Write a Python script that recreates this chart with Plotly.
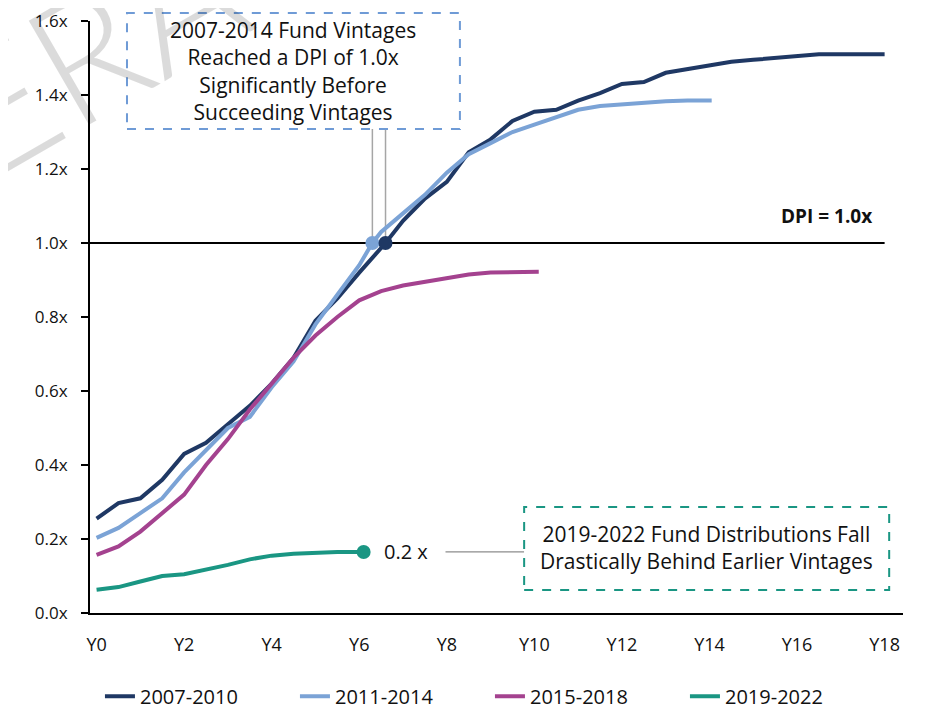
import plotly.graph_objects as go

# ---- data ----
t_a = [0, 0.5, 1, 1.5, 2, 2.5, 3, 3.5, 4, 4.5, 5, 5.5, 6, 6.6, 7, 7.5, 8, 8.5, 9, 9.5, 10, 10.5, 11, 11.5, 12, 12.5, 13, 13.5, 14, 14.5, 15, 16, 16.5, 17, 18]
v_a = [0.255, 0.297, 0.31, 0.36, 0.43, 0.46, 0.51, 0.56, 0.62, 0.69, 0.79, 0.85, 0.92, 1.0, 1.06, 1.12, 1.165, 1.245, 1.28, 1.33, 1.355, 1.36, 1.385, 1.405, 1.43, 1.435, 1.46, 1.47, 1.48, 1.49, 1.495, 1.505, 1.51, 1.51, 1.51]

t_b = [0, 0.5, 1, 1.5, 2, 2.5, 3, 3.5, 4, 4.5, 5, 5.5, 6, 6.3, 6.5, 7, 7.5, 8, 8.5, 9, 9.5, 10, 10.5, 11, 11.5, 12, 12.5, 13, 13.5, 14.05]
v_b = [0.203, 0.23, 0.27, 0.31, 0.38, 0.44, 0.50, 0.53, 0.61, 0.68, 0.78, 0.86, 0.94, 1.0, 1.03, 1.08, 1.13, 1.19, 1.24, 1.27, 1.30, 1.32, 1.34, 1.36, 1.37, 1.375, 1.38, 1.383, 1.385, 1.385]

t_c = [0, 0.5, 1, 1.5, 2, 2.5, 3, 3.5, 4, 4.5, 5, 5.5, 6, 6.5, 7, 7.5, 8, 8.5, 9, 9.5, 10.1]
v_c = [0.157, 0.18, 0.22, 0.27, 0.32, 0.40, 0.47, 0.55, 0.62, 0.69, 0.75, 0.80, 0.845, 0.87, 0.885, 0.895, 0.905, 0.915, 0.92, 0.922, 0.922]

t_d = [0, 0.5, 1, 1.5, 2, 2.5, 3, 3.5, 4, 4.5, 5, 5.5, 6.1]
v_d = [0.063, 0.07, 0.085, 0.10, 0.105, 0.117, 0.13, 0.145, 0.155, 0.16, 0.163, 0.165, 0.165]

names = ["2007-2010", "2011-2014", "2015-2018", "2019-2022"]
colors = ["#1f3864", "#7ba3d6", "#a4428f", "#1a9683"]

x_tickvals = [0, 2, 4, 6, 8, 10, 12, 14, 16, 18]
x_ticktext = ["Y0", "Y2", "Y4", "Y6", "Y8", "Y10", "Y12", "Y14", "Y16", "Y18"]
y_tickvals = [0, 0.2, 0.4, 0.6, 0.8, 1.0, 1.2, 1.4, 1.6]
y_ticktext = ["0.0x", "0.2x", "0.4x", "0.6x", "0.8x", "1.0x", "1.2x", "1.4x", "1.6x"]

FONT = "Open Sans"

fig = go.Figure()
for t, v, n, c in zip([t_a, t_b, t_c, t_d], [v_a, v_b, v_c, v_d], names, colors):
    fig.add_trace(go.Scatter(x=t, y=v, mode="lines", name=n,
                             line=dict(color=c, width=4, shape="linear")))

# markers
fig.add_trace(go.Scatter(x=[t_b[13]], y=[v_b[13]], mode="markers", showlegend=False,
                         marker=dict(color=colors[1], size=14)))
fig.add_trace(go.Scatter(x=[t_a[13]], y=[v_a[13]], mode="markers", showlegend=False,
                         marker=dict(color=colors[0], size=14)))
fig.add_trace(go.Scatter(x=[t_d[-1]], y=[v_d[-1]], mode="markers", showlegend=False,
                         marker=dict(color=colors[3], size=14)))

shapes = []
# DPI = 1.0 line
shapes.append(dict(type="line", xref="x", yref="y", x0=-0.15, x1=18, y0=1.0, y1=1.0,
                   line=dict(color="black", width=2), layer="below"))
# connector lines to box 1
for xv in [t_b[13], t_a[13]]:
    shapes.append(dict(type="line", xref="x", yref="paper", x0=xv, x1=xv, y0=1.0 / 1.6, y1=0.8176,
                       line=dict(color="#a6a6a6", width=1.5), layer="below"))
# connector line to box 2
shapes.append(dict(type="line", xref="x", yref="y", x0=7.97, x1=9.77, y0=0.165, y1=0.165,
                   line=dict(color="#8c8c8c", width=1.2)))
# boxes
shapes.append(dict(type="rect", xref="paper", yref="paper", x0=0.0455, x1=0.455, y0=0.8176, y1=1.0135,
                   line=dict(color="#6f9bd6", width=2, dash="dash"), fillcolor="white"))
shapes.append(dict(type="rect", xref="paper", yref="paper", x0=0.534, x1=0.983, y0=0.0389, y1=0.179,
                   line=dict(color="#1a9683", width=2, dash="dash"), fillcolor="white"))

annotations = [
    dict(text="ERA", xref="paper", yref="paper", x=0.0, y=0.955, xanchor="center", yanchor="middle",
         showarrow=False, textangle=-30,
         font=dict(family="Lato", weight=300, size=170, color="rgba(0,0,0,0.14)")),
    dict(text="2007-2014 Fund Vintages<br>Reached a DPI of 1.0x<br>Significantly Before<br>Succeeding Vintages",
         xref="paper", yref="paper", x=0.25, y=0.9155, xanchor="center", yanchor="middle",
         showarrow=False, font=dict(family=FONT, size=21, color="#111111")),
    dict(text="2019-2022 Fund Distributions Fall<br>Drastically Behind Earlier Vintages",
         xref="paper", yref="paper", x=0.7585, y=0.11, xanchor="center", yanchor="middle",
         showarrow=False, font=dict(family=FONT, size=21, color="#111111")),
    dict(text="0.2 x", xref="x", yref="y", x=7.07, y=0.165, xanchor="center", yanchor="middle",
         showarrow=False, font=dict(family=FONT, size=20, color="#111111")),
    dict(text="<b>DPI = 1.0x</b>", xref="x", yref="y", x=17.75, y=1.073, xanchor="right", yanchor="middle",
         showarrow=False, font=dict(family=FONT, size=19, color="#111111")),
]

fig.update_layout(
    width=918, height=703,
    margin=dict(l=82, r=23, t=13, b=98, autoexpand=False),
    plot_bgcolor="white", paper_bgcolor="white",
    font=dict(family=FONT, size=16, color="#111111"),
    showlegend=True,
    legend=dict(orientation="h", xref="container", yref="container", x=0.525, xanchor="center",
                y=0.021, yanchor="middle", font=dict(family=FONT, size=20),
                entrywidth=150, entrywidthmode="pixels", traceorder="normal"),
    shapes=shapes, annotations=annotations,
)
fig.update_xaxes(range=[-0.15, 18.42], tickvals=x_tickvals, ticktext=x_ticktext,
                 showgrid=False, zeroline=False, showline=True, linecolor="black", linewidth=2,
                 ticks="", ticklabelstandoff=14, tickfont=dict(size=18), automargin=False)
fig.update_yaxes(range=[0, 1.6], tickvals=y_tickvals, ticktext=y_ticktext,
                 showgrid=False, zeroline=False, automargin=False,
                 showline=True, linecolor="black", linewidth=2, ticks="outside", ticklen=7,
                 tickcolor="black", tickwidth=1.5, ticklabelstandoff=10, tickfont=dict(size=17))

fig.write_html("out.html")
